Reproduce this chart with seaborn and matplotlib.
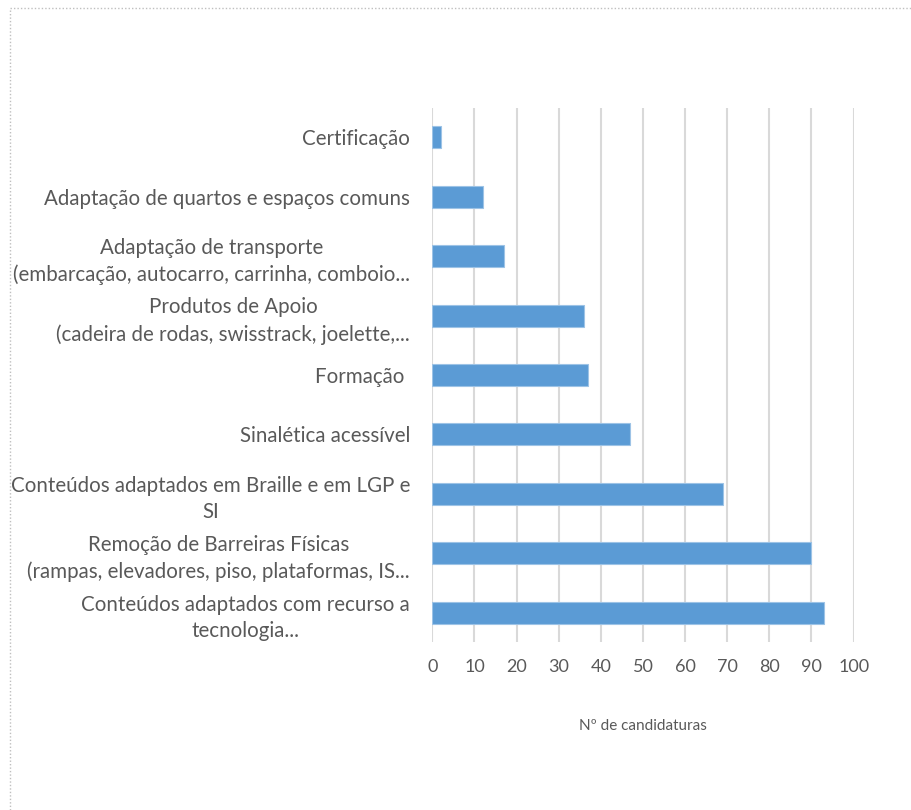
import matplotlib
matplotlib.use("Agg")
import matplotlib.pyplot as plt
import matplotlib.lines as mlines
import pandas as pd
import seaborn as sns

categorias = [
    "Certificação",
    "Adaptação de quartos e espaços comuns",
    "Adaptação de transporte\n(embarcação, autocarro, carrinha, comboio...",
    "Produtos de Apoio\n(cadeira de rodas, swisstrack, joelette,...",
    "Formação ",
    "Sinalética acessível",
    "Conteúdos adaptados em Braille e em LGP e\nSI",
    "Remoção de Barreiras Físicas\n(rampas, elevadores, piso, plataformas, IS...",
    "Conteúdos adaptados com recurso a\ntecnologia...",
]
candidaturas = [2, 12, 17, 36, 37, 47, 69, 90, 93]
x_ticks = [0, 10, 20, 30, 40, 50, 60, 70, 80, 90, 100]

df = pd.DataFrame({"categoria": categorias, "n": candidaturas})

sns.set_theme(style="white")
plt.rcParams["font.family"] = ["Lato", "DejaVu Sans"]

grey_txt = "#595959"
fig = plt.figure(figsize=(9.12, 8.10), dpi=100)
ax = fig.add_axes([0.474, 0.207, 0.462, 0.660])

sns.barplot(data=df, y="categoria", x="n", color="#5b9bd5", width=0.37,
            edgecolor="#9dc3e6", linewidth=0.8, ax=ax, saturation=1)

ax.set_xlim(0, 100)
ax.set_ylim(8.5, -0.5)
ax.set_xticks(x_ticks)
ax.xaxis.grid(True, color="#d9d9d9", linewidth=1.5)
ax.set_axisbelow(True)
for s in ax.spines.values():
    s.set_visible(False)

ax.tick_params(axis="x", colors=grey_txt, labelsize=13, pad=12, length=0)
ax.tick_params(axis="y", colors=grey_txt, labelsize=14.8, pad=16, length=0)
for lab in ax.get_yticklabels():
    lab.set_multialignment("center")
    lab.set_linespacing(1.4)

ax.set_ylabel("")
ax.set_xlabel("Nº de candidaturas", color=grey_txt, fontsize=11, labelpad=32)

# dotted frame (top and left edges only)
fig.add_artist(mlines.Line2D([10 / 912, 1], [1 - 8 / 810, 1 - 8 / 810], transform=fig.transFigure,
                             color="#bfbfbf", linestyle=(0, (1, 1.5)), linewidth=1))
fig.add_artist(mlines.Line2D([10 / 912, 10 / 912], [0, 1 - 8 / 810], transform=fig.transFigure,
                             color="#bfbfbf", linestyle=(0, (1, 1.5)), linewidth=1))

fig.savefig("out.png", dpi=100, facecolor="white")
